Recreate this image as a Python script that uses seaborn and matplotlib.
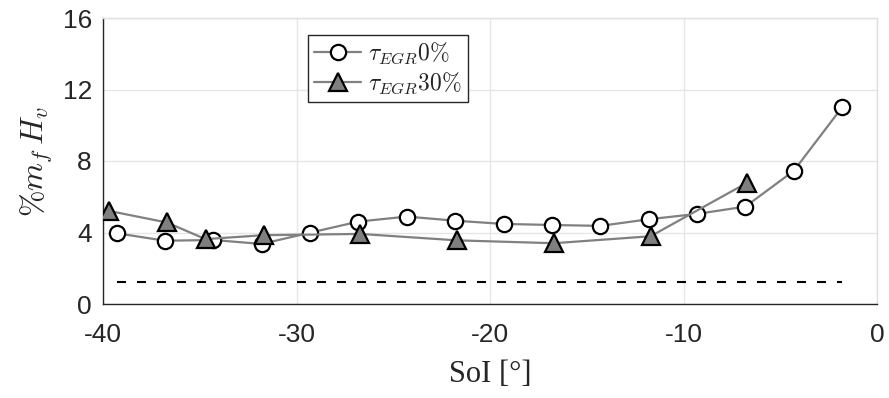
import matplotlib
matplotlib.use("Agg")
import matplotlib.pyplot as plt
import seaborn as sns
import pandas as pd

# ---- data ----
soi_egr0 = [-39.3, -36.8, -34.3, -31.8, -29.3, -26.8, -24.3, -21.8, -19.3,
            -16.8, -14.3, -11.8, -9.3, -6.8, -4.3, -1.8]
hv_egr0 = [3.96, 3.54, 3.58, 3.36, 3.99, 4.61, 4.89, 4.66, 4.48,
           4.42, 4.37, 4.74, 5.04, 5.45, 7.45, 11.01]
soi_egr30 = [-39.7, -36.7, -34.7, -31.7, -26.7, -21.7, -16.7, -11.7, -6.7]
hv_egr30 = [5.21, 4.56, 3.63, 3.85, 3.92, 3.56, 3.40, 3.79, 6.79]
ref_x = [-39.3, -1.8]
ref_y = [1.21, 1.21]
label_egr0 = r'$\tau_{EGR}0\%$'
label_egr30 = r'$\tau_{EGR}30\%$'
xticks = [-40, -30, -20, -10, 0]
yticks = [0, 4, 8, 12, 16]

sns.set_theme(style="white")
plt.rcParams['font.family'] = ['Liberation Sans', 'DejaVu Sans']
plt.rcParams['mathtext.fontset'] = 'cm'

df0 = pd.DataFrame({'x': soi_egr0, 'y': hv_egr0})
df30 = pd.DataFrame({'x': soi_egr30, 'y': hv_egr30})
dfr = pd.DataFrame({'x': ref_x, 'y': ref_y})

fig = plt.figure(figsize=(8.89, 3.98), dpi=100)
ax = fig.add_axes([103/889, 1-304/398, (877-103)/889, (304-18)/398])

sns.lineplot(data=dfr, x='x', y='y', ax=ax, color='black', linewidth=1.5,
             linestyle=(0, (4.3, 5.3)), sort=False, zorder=2)
sns.lineplot(data=df0, x='x', y='y', ax=ax, color='#808080', linewidth=1.6,
             marker='o', markersize=11, markerfacecolor='white',
             markeredgecolor='black', markeredgewidth=1.6, sort=False,
             label=label_egr0, zorder=3)
sns.lineplot(data=df30, x='x', y='y', ax=ax, color='#808080', linewidth=1.6,
             marker='^', markersize=13, markerfacecolor='#7f7f7f',
             markeredgecolor='black', markeredgewidth=1.6, sort=False,
             label=label_egr30, zorder=4)

ax.set_xlim(-40, 0)
ax.set_ylim(0, 16)
ax.set_xticks(xticks)
ax.set_yticks(yticks)
ax.set_xticklabels([str(t) for t in xticks])
ax.set_yticklabels([str(t) for t in yticks])
ax.grid(True, color='#e6e6e6', linewidth=1.0)
ax.set_axisbelow(True)

for s in ['left', 'bottom']:
    ax.spines[s].set_color('#262626')
    ax.spines[s].set_linewidth(1.0)
for s in ['top', 'right']:
    ax.spines[s].set_color('#e0e0e0')
    ax.spines[s].set_linewidth(1.0)

ax.tick_params(axis='both', direction='in', length=6, width=1.0,
               color='#262626', labelcolor='#262626', labelsize=19)
ax.tick_params(axis='x', pad=13.5)
ax.tick_params(axis='y', pad=8)

ax.set_xlabel('SoI [°]', family=['Liberation Serif', 'DejaVu Serif'],
              fontsize=22, color='#262626', labelpad=9.5)
ax.set_ylabel(r'$\%m_f\,H_v$', fontsize=23, color='#262626', labelpad=5.5)

leg = ax.legend(loc='upper left', bbox_to_anchor=(0.265, 0.941),
                borderaxespad=0, fontsize=17, frameon=True, fancybox=False,
                framealpha=1, edgecolor='#262626', handlelength=2.0,
                handletextpad=0.3, borderpad=0.25, labelspacing=0.2)
leg.get_frame().set_linewidth(1.0)

fig.savefig('out.png', dpi=100)
